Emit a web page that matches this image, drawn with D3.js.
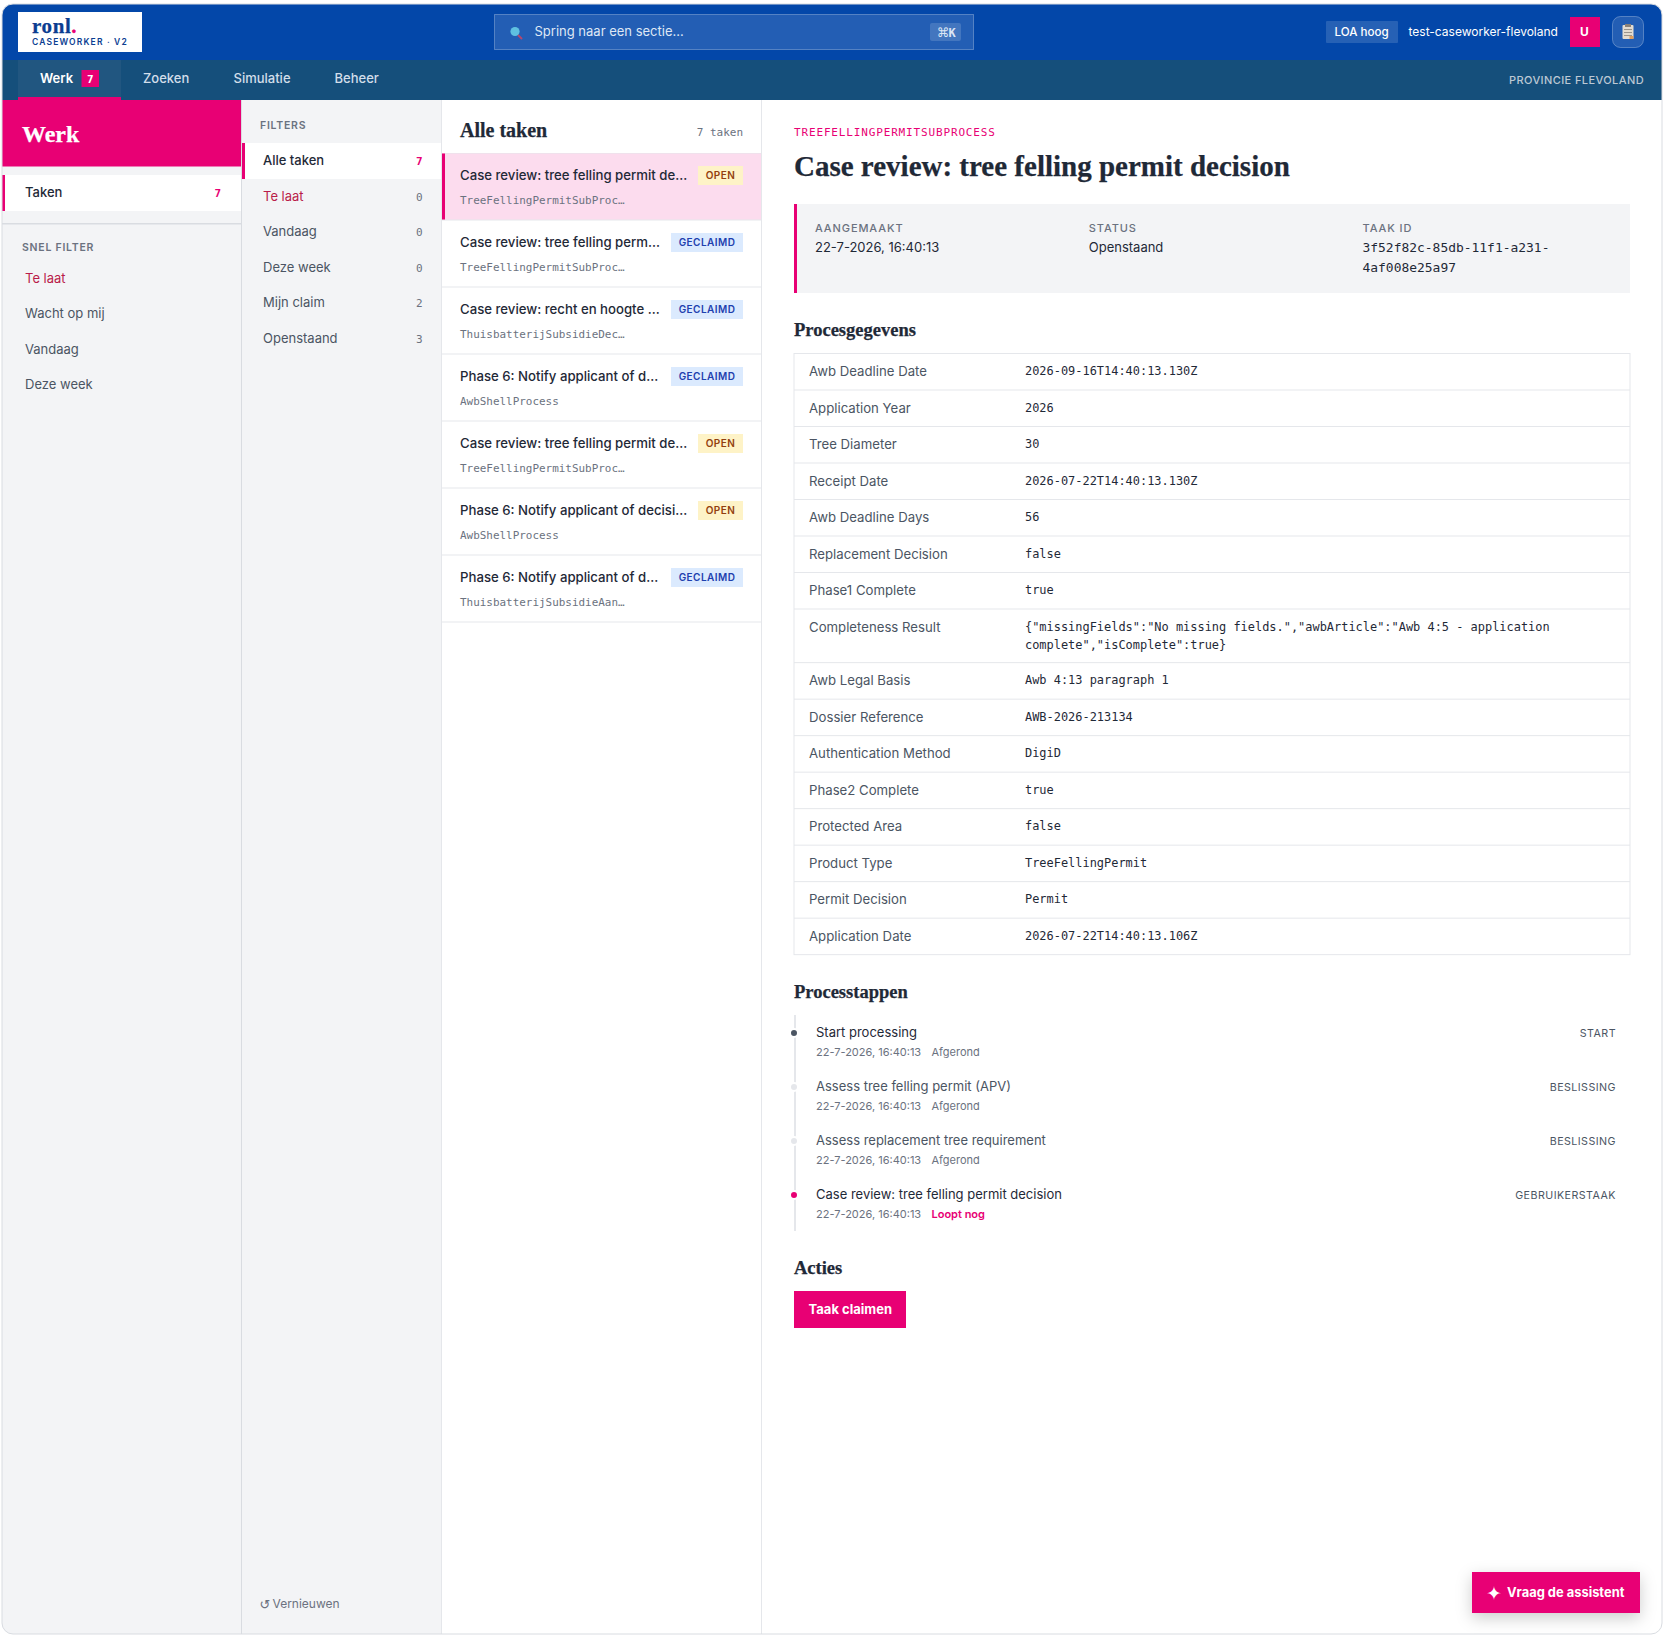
<!DOCTYPE html>
<html><head><meta charset="utf-8"><title>RONL Caseworker</title>
<script src="https://d3js.org/d3.v7.min.js"></script>
<style>html,body{margin:0;padding:0;background:#fff}svg{display:block}text{white-space:pre}</style>
</head><body><div id="app"></div>
<script>
const navItems=["Werk","Zoeken","Simulatie","Beheer"];
const sideItems=["Te laat","Wacht op mij","Vandaag","Deze week"];
const filterNames=["Alle taken","Te laat","Vandaag","Deze week","Mijn claim","Openstaand"];
const filterCounts=[7,0,0,0,2,3];
const taskTitles=["Case review: tree felling permit de...","Case review: tree felling perm...","Case review: recht en hoogte ...","Phase 6: Notify applicant of d...","Case review: tree felling permit de...","Phase 6: Notify applicant of decisi...","Phase 6: Notify applicant of d..."];
const taskStates=["OPEN","GECLAIMD","GECLAIMD","GECLAIMD","OPEN","OPEN","GECLAIMD"];
const taskProcs=["TreeFellingPermitSubProc…","TreeFellingPermitSubProc…","ThuisbatterijSubsidieDec…","AwbShellProcess","TreeFellingPermitSubProc…","AwbShellProcess","ThuisbatterijSubsidieAan…"];
const fieldNames=["Awb Deadline Date","Application Year","Tree Diameter","Receipt Date","Awb Deadline Days","Replacement Decision","Phase1 Complete","Completeness Result","Awb Legal Basis","Dossier Reference","Authentication Method","Phase2 Complete","Protected Area","Product Type","Permit Decision","Application Date"];
const fieldValues=[["2026-09-16T14:40:13.130Z"],["2026"],["30"],["2026-07-22T14:40:13.130Z"],["56"],["false"],["true"],['{"missingFields":"No missing fields.","awbArticle":"Awb 4:5 - application','complete","isComplete":true}'],["Awb 4:13 paragraph 1"],["AWB-2026-213134"],["DigiD"],["true"],["false"],["TreeFellingPermit"],["Permit"],["2026-07-22T14:40:13.106Z"]];
const stepNames=["Start processing","Assess tree felling permit (APV)","Assess replacement tree requirement","Case review: tree felling permit decision"];
const stepTypes=["START","BESLISSING","BESLISSING","GEBRUIKERSTAAK"];
const stepStates=["Afgerond","Afgerond","Afgerond","Loopt nog"];
const stepTime="22-7-2026, 16:40:13";
const metaLabels=["AANGEMAAKT","STATUS","TAAK ID"];
const metaValues=[["22-7-2026, 16:40:13"],["Openstaand"],["3f52f82c-85db-11f1-a231-","4af008e25a97"]];

const SANS="Inter, 'Noto Sans', sans-serif", SERIF="'Liberation Serif', serif", MONO="'DejaVu Sans Mono', monospace";
const PINK="#e80074", BLUE="#0347a9", NAVY="#154f7b", PANEL="#f3f4f6", LINE="#e5e7eb", DARK="#1f2937", MID="#4b5563", GREY="#6b7280";
const svg=d3.select("#app").append("svg").attr("width",1664).attr("height",1635).attr("viewBox","0 0 1664 1635");
const defs=svg.append("defs");
defs.append("clipPath").attr("id","fr").append("rect").attr("x",2).attr("y",4).attr("width",1660).attr("height",1630).attr("rx",11);
const sh=defs.append("filter").attr("id","sh").attr("x","-30%").attr("y","-60%").attr("width","160%").attr("height","240%");
sh.append("feDropShadow").attr("dx",0).attr("dy",5).attr("stdDeviation",8).attr("flood-color","#000").attr("flood-opacity",0.2);
const root=svg.append("g").attr("clip-path","url(#fr)");
function R(g,x,y,w,h,fill,rx){return g.append("rect").attr("x",x).attr("y",y).attr("width",w).attr("height",h).attr("fill",fill).attr("rx",rx||0);}
function T(g,s,x,y,o={}){const t=g.append("text").text(s).attr("x",x).attr("y",y).attr("font-family",o.f||SANS).attr("font-size",o.s||13).attr("font-weight",o.w||400).attr("fill",o.c||DARK).attr("letter-spacing",o.ls||0).attr("text-anchor",o.a||"start");
 if(o.f===SERIF) t.attr("stroke",o.c||DARK).attr("stroke-width",0.25);
 return t;}
function list(g,arr){return g.selectAll(null).data(arr).join("g");}

R(root,2,4,1660,1631,"#fff");
R(root,2,4,1660,56,BLUE);
R(root,2,60,1660,40,NAVY);
// logo
R(root,18,12,124,40,"#fff");
const lg=T(root,"ronl",32,33,{f:SERIF,s:21,w:700,c:"#0b3d91",ls:0.6});
lg.append("tspan").text(".").attr("fill",PINK).attr("stroke",PINK);
T(root,"CASEWORKER · V2",32,45,{s:8.5,w:600,c:"#0b3d91",ls:1.15});
// search
R(root,494.5,14.5,479,35,"rgba(255,255,255,0.13)").attr("stroke","rgba(255,255,255,0.28)");
root.append("line").attr("x1",518).attr("y1",35).attr("x2",522).attr("y2",39).attr("stroke","#b5476e").attr("stroke-width",2);
root.append("circle").attr("cx",515).attr("cy",31.5).attr("r",4.6).attr("fill","#5fc0e0");
T(root,"Spring naar een sectie...",534.5,36,{s:13,c:"#dfe7f4"});
R(root,930,23,31,18,"rgba(255,255,255,0.15)",2);
T(root,"⌘",937,36.5,{f:"'DejaVu Sans'",s:12.5,c:"#dbe5f4"});
T(root,"K",948.5,36.5,{f:MONO,s:12,w:600,c:"#dbe5f4"});
// header right
R(root,1326,21,72,22,"rgba(255,255,255,0.14)",1);
T(root,"LOA hoog",1334.5,36,{s:11.6,w:500,c:"#fff"});
T(root,"test-caseworker-flevoland",1408.5,36,{s:12,c:"#fff"});
R(root,1570,17,30,30,PINK);
T(root,"U",1584.5,36,{s:12,w:700,c:"#fff",a:"middle"});
R(root,1612.5,16.5,31,31,"rgba(255,255,255,0.13)",8).attr("stroke","rgba(255,255,255,0.28)");
R(root,1622.5,25,11,14,"#e4dcd0",1);
R(root,1625,24,6,3,"#8a8178");
[29,32,35].forEach(y=>R(root,1624,y,8,1,"#9a948c"));
R(root,1629.5,36,4,3,"#e0a060");
// nav
const navX=d3.scaleOrdinal().domain(navItems).range([40,143,233.5,334.5]);
R(root,18,60,103,37,"#215680");
R(root,18,97,103,3,PINK);
list(root,navItems).each(function(d,i){T(d3.select(this),d,navX(d),83,{s:13,w:i?500:600,c:i?"#d2deea":"#fff"});});
R(root,81.5,70,17.5,17,PINK);
T(root,"7",90.2,83,{f:MONO,s:11,w:700,c:"#fff",a:"middle"});
T(root,"PROVINCIE FLEVOLAND",1644,84,{s:11,w:500,c:"#bcc8d4",ls:0.4,a:"end"});
// sidebar
R(root,2,100,239,1535,PANEL);
R(root,241,100,1,1535,"#d9dce1");
R(root,2,100,239,66.5,PINK);
T(root,"Werk",22,142,{f:SERIF,s:24,w:700,c:"#fff"});
R(root,2,175,239,36,"#fff");
R(root,2,175,3,36,PINK);
T(root,"Taken",25,197,{s:13,w:500,c:DARK});
T(root,"7",221,197,{f:MONO,s:11,w:700,c:PINK,a:"end"});
R(root,2,223,239,1.5,"#d9dce1");
T(root,"SNEL FILTER",22,251,{s:10.5,w:600,c:GREY,ls:0.75});
const sideY=d3.scalePoint().domain(d3.range(sideItems.length)).range([283,389]);
list(root,sideItems).each(function(d,i){T(d3.select(this),d,25,sideY(i),{s:13,c:i?MID:"#b91c4a"});});
// filters
R(root,242,100,199,1535,PANEL);
R(root,441,100,1,1535,LINE);
T(root,"FILTERS",260,129,{s:10.5,w:600,c:GREY,ls:0.75});
R(root,242,143,199,36,"#fff");
R(root,242,143,3,36,PINK);
const filtY=d3.scalePoint().domain(d3.range(filterNames.length)).range([165,343]);
list(root,filterNames).each(function(d,i){const g=d3.select(this);
 T(g,d,263,filtY(i),{s:13,w:i?400:500,c:i==0?DARK:(i==1?"#b91c4a":MID)});
 T(g,filterCounts[i],422.5,filtY(i),{f:MONO,s:11,w:i?400:700,c:i?GREY:PINK,a:"end"});});
T(root,"↺",259.5,1608.5,{f:"'DejaVu Sans'",s:13,c:GREY});
T(root,"Vernieuwen",272.5,1608,{s:12,c:GREY});
// tasks
R(root,442,100,319,1535,"#fff");
R(root,761,100,1,1535,LINE);
T(root,"Alle taken",460,136.5,{f:SERIF,s:20,w:700,c:DARK});
T(root,"7 taken",743,136,{f:MONO,s:11,c:GREY,a:"end"});
R(root,442,153,319,1,LINE);
const taskY=d3.scaleBand().domain(d3.range(taskTitles.length)).range([153.5,622.5]);
list(root,taskTitles).each(function(d,i){const g=d3.select(this),y=taskY(i),open=taskStates[i]=="OPEN";
 if(i==0){R(g,442,y,319,66.5,"#fcdcee");R(g,442,y,3,66.5,PINK);}
 R(g,442,y+66,319,1,LINE);
 T(g,d,460,y+26.5,{s:13.2,w:500,c:DARK});
 T(g,taskProcs[i],460,y+50.5,{f:MONO,s:10.95,c:GREY});
 const bw=open?45:72;
 R(g,743-bw,y+12.5,bw,19,open?"#fef3c7":"#dbeafe");
 T(g,taskStates[i],743-bw/2,y+25.7,{s:10,w:600,c:open?"#92400e":"#1e40af",ls:0.45,a:"middle"});
});
// detail
T(root,"TREEFELLINGPERMITSUBPROCESS",794,136,{f:MONO,s:11,c:PINK,ls:0.85});
T(root,"Case review: tree felling permit decision",794,175.5,{f:SERIF,s:29,w:700,c:DARK});
R(root,794,204,836,89,PANEL);
R(root,794,204,3,89,PINK);
const metaX=d3.scalePoint().domain(d3.range(3)).range([815,1362.5]);
list(root,metaLabels).each(function(d,i){const g=d3.select(this);
 T(g,d,metaX(i),232,{s:11,w:500,c:GREY,ls:0.9});
 metaValues[i].forEach((v,k)=>T(g,v,metaX(i),252+20*k,{f:i==2?MONO:SANS,s:i==2?12.95:13,c:DARK}));});
T(root,"Procesgegevens",794,335.7,{f:SERIF,s:18.5,w:700,c:DARK});
// table
const units=fieldValues.map(v=>v.length>1?1.47:1);
const cum=d3.cumsum([0].concat(units));
const rowY=d3.scaleLinear().domain([0,1]).range([353.5,390]);
R(root,794,353.5,836,rowY(cum[cum.length-1])-353.5,"#fff").attr("stroke",LINE);
list(root,fieldNames).each(function(d,i){const g=d3.select(this),y0=rowY(cum[i]);
 if(i) g.append("line").attr("x1",794).attr("x2",1630).attr("y1",y0).attr("y2",y0).attr("stroke",LINE);
 T(g,d,809,y0+22.5,{s:13.2,c:MID});
 fieldValues[i].forEach((v,k)=>T(g,v,1025,y0+21.5+k*18,{f:MONO,s:11.95,c:DARK}));});
T(root,"Processtappen",794,997.7,{f:SERIF,s:18.5,w:700,c:DARK});
root.append("line").attr("x1",795).attr("x2",795).attr("y1",1015).attr("y2",1231).attr("stroke",LINE).attr("stroke-width",2);
const stepY=d3.scalePoint().domain(d3.range(stepNames.length)).range([1037,1199]);
const dotC=["#4b5563","#e5e7eb","#e5e7eb",PINK];
list(root,stepNames).each(function(d,i){const g=d3.select(this),y=stepY(i);
 g.append("circle").attr("cx",794).attr("cy",y-4).attr("r",4).attr("fill",dotC[i]).attr("stroke","#fff").attr("stroke-width",2);
 T(g,d,816,y,{s:13,c:(i==1||i==2)?MID:DARK});
 T(g,stepTime,816,y+19,{s:11,c:GREY});
 T(g,stepStates[i],931.5,y+19,{s:11,w:i==3?600:400,c:i==3?PINK:GREY});
 T(g,stepTypes[i],1616,y,{s:10.7,c:MID,ls:0.45,a:"end"});
});
T(root,"Acties",794,1273.7,{f:SERIF,s:18.5,w:700,c:DARK});
R(root,794,1291,112,37,PINK);
T(root,"Taak claimen",850.3,1314,{s:13,w:700,c:"#fff",a:"middle"});
R(root,1472,1572,168,41,PINK).attr("filter","url(#sh)");
T(root,"✦",1494,1599.5,{f:"'DejaVu Sans'",s:19,c:"#fff",a:"middle"});
T(root,"Vraag de assistent",1507,1597,{s:12.9,w:700,c:"#fff"});
svg.append("rect").attr("x",2).attr("y",4).attr("width",1660).attr("height",1630).attr("rx",11).attr("fill","none").attr("stroke","#d9dce1");
</script></body></html>
